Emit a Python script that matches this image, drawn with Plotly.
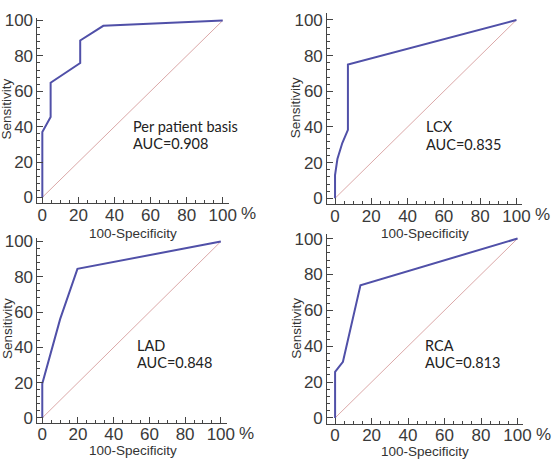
import plotly.graph_objects as go

W, H = 558, 463

# ROC data (100-Specificity, Sensitivity)
p1_x = [0, 0, 4.6, 4.6, 21, 21, 33.8, 100]
p1_y = [0, 37, 45.5, 64.8, 76, 88.7, 97, 100]
lcx_x = [0, 0, 1.3, 4, 7.1, 7.1, 100]
lcx_y = [0, 13, 22, 31, 38.4, 75, 100]
lad_x = [0, 0, 10, 19.7, 100]
lad_y = [0, 19.4, 56, 84.5, 100]
rca_x = [0, 0, 4.3, 13.9, 100]
rca_y = [0, 25.7, 31.3, 74, 100]

labels = ["Per patient basis", "LCX", "LAD", "RCA"]
aucs = ["AUC=0.908", "AUC=0.835", "AUC=0.848", "AUC=0.813"]
label_pos = [(49, 40.3), (49, 40.2), (52, 41), (48, 40.6)]
tick_vals = [0, 20, 40, 60, 80, 100]
tick_text = ["0", "20", "40", "60", "80", "100"]
diag = [0, 100]

series = [(p1_x, p1_y), (lcx_x, lcx_y), (lad_x, lad_y), (rca_x, rca_y)]

# panel geometry in pixels: (x_left, x_right, y_top, y_bottom), ranges
panels = [
    dict(px=(38, 232), py=(12, 202), xr=(-2.7, 103.3), yr=(-3.3, 101.6)),
    dict(px=(332, 530), py=(7, 203), xr=(-4.3, 103.3), yr=(-3.3, 104.0)),
    dict(px=(38, 230), py=(238, 427), xr=(-2.7, 103.3), yr=(-2.8, 101.8)),
    dict(px=(332, 531), py=(234, 428), xr=(-4.3, 103.2), yr=(-3.3, 102.3)),
]

fig = go.Figure()
layout = dict(
    width=W, height=H, margin=dict(l=0, r=0, t=0, b=0),
    paper_bgcolor="white", plot_bgcolor="white", showlegend=False,
)
annotations = []
tick_font = dict(family="Liberation Sans, Arial", size=17, color="#3a3a3a")

for i, (pn, (xs, ys)) in enumerate(zip(panels, series)):
    n = "" if i == 0 else str(i + 1)
    xa, ya = "x" + n, "y" + n
    fig.add_trace(go.Scatter(x=diag, y=diag, mode="lines", xaxis=xa, yaxis=ya,
                             line=dict(color="#dba8a8", width=1), hoverinfo="skip"))
    fig.add_trace(go.Scatter(x=xs, y=ys, mode="lines", xaxis=xa, yaxis=ya,
                             line=dict(color="#5050a8", width=2)))
    common = dict(showgrid=False, zeroline=False, showline=True, linecolor="#444",
                  linewidth=1, ticks="inside", ticklen=6, tickwidth=1, tickcolor="#444",
                  tickvals=tick_vals, ticktext=tick_text, tickfont=tick_font,
                  fixedrange=True)
    layout["xaxis" + n] = dict(common, domain=[pn["px"][0] / W, pn["px"][1] / W],
                               range=list(pn["xr"]), anchor=ya, ticklabelstandoff=-4,
                               minor=dict(ticks="inside", ticklen=3, dtick=5,
                                          tickcolor="#444", showgrid=False))
    layout["yaxis" + n] = dict(common, domain=[1 - pn["py"][1] / H, 1 - pn["py"][0] / H],
                               range=list(pn["yr"]), anchor=xa,
                               minor=dict(ticks="inside", ticklen=3, dtick=4,
                                          tickcolor="#444", showgrid=False))
    lx, ly = label_pos[i]
    annotations.append(dict(x=lx, y=ly, xref=xa, yref=ya, text=labels[i], showarrow=False,
                            xanchor="left", yanchor="middle",
                            font=dict(family="Lato, Open Sans", size=14.5, color="#222")))
    annotations.append(dict(x=lx, y=ly - 9.8, xref=xa, yref=ya, text=aucs[i], showarrow=False,
                            xanchor="left", yanchor="middle",
                            font=dict(family="Lato, Open Sans", size=14.5, color="#222")))
    # percent sign after 100
    x100 = pn["px"][0] + (100 - pn["xr"][0]) / (pn["xr"][1] - pn["xr"][0]) * (pn["px"][1] - pn["px"][0])
    annotations.append(dict(x=(x100 + 26) / W, y=1 - (pn["py"][1] + 11) / H, xref="paper", yref="paper",
                            text="%", showarrow=False, xanchor="center", yanchor="middle",
                            font=dict(family="Liberation Sans, Arial", size=17, color="#3a3a3a")))

# axis titles
xt = [(135, 233), (431, 233), (135, 455), (431, 456)]
yt = [(7, 105), (300, 104), (7, 330), (300, 330)]
for (tx, ty) in xt:
    annotations.append(dict(x=tx / W, y=1 - ty / H, xref="paper", yref="paper",
                            text="100-Specificity", showarrow=False, xanchor="center",
                            yanchor="middle",
                            font=dict(family="Liberation Sans, Arial", size=13.5, color="#333")))
for (tx, ty) in yt:
    annotations.append(dict(x=tx / W, y=1 - ty / H, xref="paper", yref="paper",
                            text="Sensitivity", showarrow=False, xanchor="center",
                            yanchor="middle", textangle=-90,
                            font=dict(family="Liberation Sans, Arial", size=13.5, color="#333")))

layout["annotations"] = annotations
fig.update_layout(**layout)
fig.write_html("out.html")
